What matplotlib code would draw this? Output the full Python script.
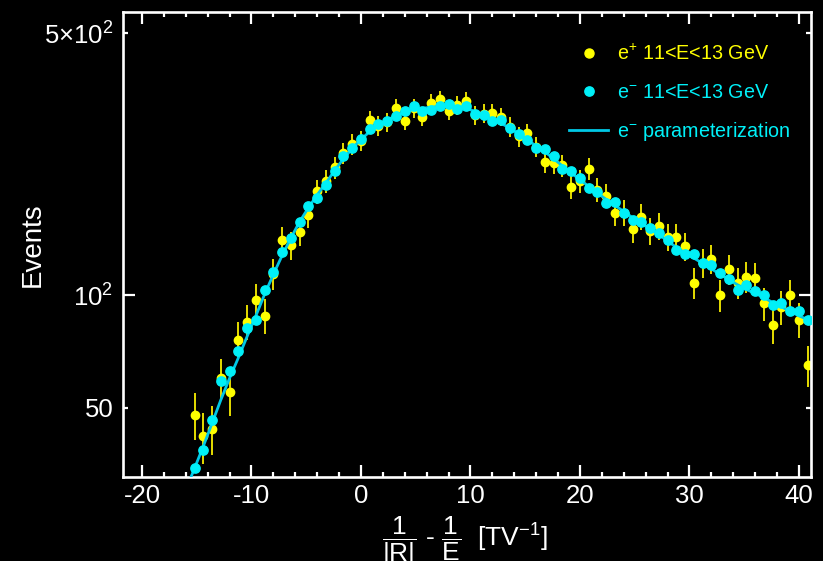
import matplotlib

matplotlib.use("Agg")
import matplotlib.pyplot as plt
from matplotlib.lines import Line2D
from matplotlib.ticker import FixedFormatter, FixedLocator, MultipleLocator

plt.rcParams["font.family"] = ["Liberation Sans", "DejaVu Sans"]
plt.rcParams["mathtext.fontset"] = "custom"
plt.rcParams["mathtext.rm"] = "Liberation Sans"
plt.rcParams["mathtext.it"] = "Liberation Sans:italic"
plt.rcParams["mathtext.bf"] = "Liberation Sans:bold"
plt.rcParams["axes.unicode_minus"] = False

# bin centres in 1/|R| - 1/E  [TV^-1]
bin_centers = [
    -15.2, -14.4, -13.6, -12.8, -12.0, -11.2, -10.4, -9.6, -8.8, -8.0,
    -7.2, -6.4, -5.6, -4.8, -4.0, -3.2, -2.4, -1.6, -0.8, 0.0,
    0.8, 1.6, 2.4, 3.2, 4.0, 4.8, 5.6, 6.4, 7.2, 8.0,
    8.8, 9.6, 10.4, 11.2, 12.0, 12.8, 13.6, 14.4, 15.2, 16.0,
    16.8, 17.6, 18.4, 19.2, 20.0, 20.8, 21.6, 22.4, 23.2, 24.0,
    24.8, 25.6, 26.4, 27.2, 28.0, 28.8, 29.6, 30.4, 31.2, 32.0,
    32.8, 33.6, 34.4, 35.2, 36.0, 36.8, 37.6, 38.4, 39.2, 40.0,
    40.8,
]

# e+ 11<E<13 GeV
positron_counts = [
    48, 42, 44, 60, 55, 76, 85, 97, 88, 114,
    140, 136, 147, 164, 189, 201, 219, 239, 253, 258,
    293, 283, 289, 315, 292, 315, 299, 326, 333, 310,
    321, 330, 302, 305, 306, 299, 281, 265, 270, 249,
    227, 225, 222, 194, 201, 217, 191, 184, 166, 166,
    150, 162, 148, 153, 143, 143, 135, 108, 122, 125,
    100, 117, 108, 112, 111, 95, 83, 93, 100, 86,
    65,
]
positron_err = [
    6.9, 6.5, 6.6, 7.7, 7.4, 8.7, 9.2, 9.8, 9.4, 10.7,
    11.8, 11.7, 12.1, 12.8, 13.7, 14.2, 14.8, 15.5, 15.9, 16.1,
    17.1, 16.8, 17.0, 17.7, 17.1, 17.7, 17.3, 18.1, 18.2, 17.6,
    17.9, 18.2, 17.4, 17.5, 17.5, 17.3, 16.8, 16.3, 16.4, 15.8,
    15.1, 15.0, 14.9, 13.9, 14.2, 14.7, 13.8, 13.6, 12.9, 12.9,
    12.2, 12.7, 12.2, 12.4, 12.0, 12.0, 11.6, 10.4, 11.0, 11.2,
    10.0, 10.8, 10.4, 10.6, 10.5, 9.7, 9.1, 9.6, 10.0, 9.3,
    8.1,
]

# e- 11<E<13 GeV (normalised)
electron_counts = [
    34.5, 38.5, 46.5, 59.0, 62.8, 70.8, 81.8, 85.9, 102.9, 115.2,
    130.0, 142.2, 156.9, 172.4, 181.1, 196.6, 214.6, 235.3, 246.3, 261.6,
    277.3, 285.9, 292.1, 300.3, 310.2, 319.3, 310.2, 311.6, 320.0, 323.3,
    312.9, 319.3, 304.0, 301.6, 290.7, 293.0, 279.5, 268.5, 259.2, 246.3,
    244.8, 234.5, 216.5, 214.2, 204.8, 193.0, 188.7, 176.3, 177.0, 165.8,
    158.5, 156.3, 150.7, 146.1, 140.2, 131.8, 129.0, 128.4, 121.5, 120.6,
    114.8, 110.3, 103.4, 106.3, 102.5, 100.0, 94.3, 95.0, 90.6, 90.6,
    85.8,
]

# e- parameterization, sampled at the bin centres plus both ends
param_x = [-15.75] + bin_centers + [41.0]
param_y = [
    31.5,
    34.5, 39.5, 45.5, 52.5, 60.0, 68.0, 77.5, 88.0, 100.5, 113.5,
    127.5, 142.0, 157.0, 171.0, 185.0, 199.0, 215.0, 231.0, 246.0, 260.0,
    273.0, 284.0, 293.0, 301.0, 308.0, 312.5, 315.0, 317.0, 318.5, 319.0,
    318.0, 315.0, 309.0, 302.0, 294.0, 287.0, 279.0, 269.0, 259.0, 250.0,
    241.0, 231.0, 221.0, 212.0, 203.0, 195.0, 187.0, 180.0, 173.5, 167.0,
    161.0, 155.5, 150.0, 145.0, 139.5, 134.0, 129.5, 125.5, 121.5, 117.5,
    113.5, 110.0, 106.5, 103.5, 101.0, 98.5, 95.5, 93.0, 90.5, 88.0,
    86.0,
    85.5,
]

YELLOW = "#ffff00"
YELLOW_BAR = "#e6dc00"
CYAN = "#00f0f8"
LINE_CYAN = "#00c8e6"
FG = "white"

fig = plt.figure(figsize=(8.23, 5.61), dpi=100, facecolor="black")
ax = fig.add_axes([0.1495, 0.1497, 0.8359, 0.8289], facecolor="black")

ax.errorbar(bin_centers, positron_counts, yerr=positron_err, fmt="o", color=YELLOW,
            ecolor=YELLOW_BAR, elinewidth=1.4, ms=6, capsize=0, zorder=2)
ax.plot(param_x, param_y, color=LINE_CYAN, lw=2.0, zorder=3)
ax.plot(bin_centers, electron_counts, "o", color=CYAN, ms=6.7, zorder=4)

ax.set_yscale("log")
ax.set_xlim(-21.73, 41.1)
ax.set_ylim(32.7, 569)

# frame and ticks
for spine in ax.spines.values():
    spine.set_color(FG)
    spine.set_linewidth(1.9)

ax.xaxis.set_major_locator(MultipleLocator(10))
ax.xaxis.set_minor_locator(MultipleLocator(2))
ax.yaxis.set_major_locator(FixedLocator([100]))
ax.yaxis.set_major_formatter(FixedFormatter([r"$10^{2}$"]))
ax.yaxis.set_minor_locator(FixedLocator([50, 500]))
ax.yaxis.set_minor_formatter(FixedFormatter(["50", r"$5{\times}10^{2}$"]))

ax.tick_params(which="both", direction="in", top=True, right=True, colors=FG,
               labelcolor=FG, labelsize=18.5, width=1.6)
ax.tick_params(which="major", length=8.6)
ax.tick_params(which="minor", length=3.6)
ax.tick_params(axis="x", which="both", pad=5)
ax.tick_params(axis="y", which="both", pad=7)

ax.set_ylabel("Events", color=FG, fontsize=20)
ax.yaxis.set_label_coords(-0.113, 0.5)
ax.set_xlabel(r"$\dfrac{1}{|\mathrm{R}|}$ - $\dfrac{1}{\mathrm{E}}$  [TV$^{\mathrm{-1}}$]",
              color=FG, fontsize=19)
ax.xaxis.set_label_coords(0.497, -0.14)
ax.xaxis.label.set_va("center")

handles = [
    Line2D([], [], ls="none", marker="o", color=YELLOW, ms=6.5),
    Line2D([], [], ls="none", marker="o", color=CYAN, ms=6.7),
    Line2D([], [], color=LINE_CYAN, lw=2.0),
]
labels = [
    r"e$^{+}$ 11<E<13 GeV",
    r"e$^{-}$ 11<E<13 GeV",
    r"e$^{-}$ parameterization",
]
ax.legend(handles, labels, loc="upper left", bbox_to_anchor=(0.648, 0.931),
          frameon=False, fontsize=14.2, labelcolor=[YELLOW, CYAN, CYAN],
          handlelength=2.0, handletextpad=0.45, labelspacing=0.93,
          borderpad=0, borderaxespad=0)

fig.savefig("out.png", dpi=100, facecolor="black")
